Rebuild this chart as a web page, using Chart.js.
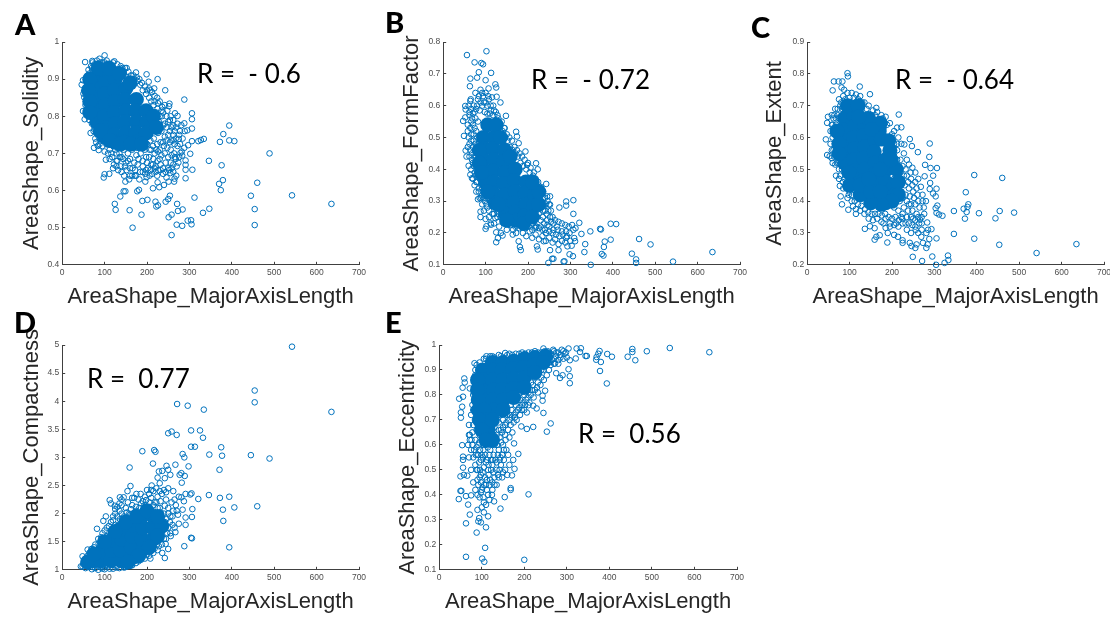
<!DOCTYPE html>
<html>
<head>
<meta charset="utf-8">
<script src="https://cdn.jsdelivr.net/npm/chart.js@4/dist/chart.umd.min.js"></script>
<style>
html, body { margin: 0; background: #fff; overflow: hidden; width: 1110px; height: 617px; }
canvas { position: absolute; }
.letter, .rtext { position: absolute; font-family: Lato, sans-serif; color: #000; line-height: 1; white-space: pre; }
.letter { font-size: 29px; font-weight: 900; }
.rtext { font-size: 26px; }
</style>
</head>
<body>
<script>
// x ticks are the same on every panel
const xTicks = [0, 100, 200, 300, 400, 500, 600, 700];
const yTicksA = [0.4, 0.5, 0.6, 0.7, 0.8, 0.9, 1];
const yTicksB = [0.1, 0.2, 0.3, 0.4, 0.5, 0.6, 0.7, 0.8];
const yTicksC = [0.2, 0.3, 0.4, 0.5, 0.6, 0.7, 0.8, 0.9];
const yTicksD = [1, 1.5, 2, 2.5, 3, 3.5, 4, 4.5, 5];
const yTicksE = [0.1, 0.2, 0.3, 0.4, 0.5, 0.6, 0.7, 0.8, 0.9, 1];

// single rings, [MajorAxisLength, value]
const pointsA = [[635,.564],[542,.587],[489,.7],[460,.621],[445,.586],[454,.55],[454,.507],[406,.733],[394,.735],[380,.752],[394,.775],[372,.731],[376,.668],[346,.68],[379,.628],[370,.618],[374,.601],[347,.551],[332,.54],[312,.581],[334,.739],[327,.736],[321,.733],[306,.733],[297,.722],[302,.699],[307,.656],[291,.633],[291,.656],[291,.669],[291,.681],[279,.701],[283,.694],[275,.739],[306,.767],[295,.762],[306,.792],[306,.808],[288,.845],[288,.781],[281,.776],[289,.76],[272,.801],[266,.808],[253,.834],[252,.827],[243,.87],[225,.9],[199,.913],[204,.893],[217,.875],[174,.918],[152,.93],[123,.948],[100,.964],[54,.946],[71,.949],[46,.885],[49,.897],[52,.851],[50,.861],[49,.814],[53,.792],[67,.755],[75,.715],[86,.709],[103,.683],[98,.635],[100,.644],[111,.645],[124,.564],[126,.548],[137,.584],[145,.598],[149,.598],[159,.547],[166,.5],[187,.535],[189,.572],[201,.575],[177,.598],[181,.602],[220,.57],[222,.557],[226,.56],[244,.57],[250,.577],[254,.586],[251,.528],[258,.535],[271,.564],[273,.545],[284,.549],[270,.508],[283,.505],[258,.48],[296,.519],[304,.52],[305,.509],[149,.624],[171,.64],[160,.64],[196,.624],[199,.636],[214,.606],[225,.622],[229,.609],[240,.615],[246,.635],[255,.647],[251,.624],[264,.624],[269,.64],[265,.632],
[58,.9],[60,.88],[62,.925],[64,.915],[66,.87],[68,.935],[72,.945],[76,.94],[82,.95],[88,.955],[95,.945],[105,.95],[112,.94],[120,.945],[130,.94],[138,.935],[58,.84],[60,.82],[62,.8],[64,.79],[68,.83],[72,.86],[70,.78],[74,.76],[78,.74],[80,.73],[84,.72],[90,.735],[95,.72],[100,.705],[108,.7],[112,.685],[118,.69],[122,.67],[128,.665],[120,.66],[132,.655],[140,.65],[148,.665],[155,.68],[160,.66],[165,.64],[172,.655],[178,.67],[184,.65],[190,.665],[196,.645],[202,.66],[208,.655],[214,.67],[220,.65],[226,.655],[232,.67],[238,.66],[244,.675],[250,.66],[256,.675],[262,.67],[268,.685],[274,.675],[145,.92],[152,.905],[160,.9],[168,.91],[176,.905],[182,.9],[188,.89],[195,.88],[205,.875],[212,.865],[218,.855],[224,.85],[230,.84],[236,.825],[242,.83],[248,.815],[256,.8],[262,.79],[225,.82],[215,.83],[205,.85],[198,.86],[190,.87],[205,.8],[212,.79],[220,.8],[228,.785],[235,.8],[242,.78],[250,.785],[258,.77],[265,.76],[272,.78],[278,.76],[210,.76],[218,.77],[226,.755],[234,.76],[242,.745],[250,.75],[258,.735],[265,.725],[272,.72],[208,.735],[216,.74],[224,.725],[232,.73],[240,.72],[248,.715],[256,.71],[264,.7],[210,.71],[218,.7],[226,.705],[234,.695],[242,.7],[250,.69],[258,.695],[266,.69],[125,.71],[135,.7],[145,.71],[155,.7],[165,.71],[175,.695],[185,.7],[195,.71],[205,.69],[215,.685],[225,.68],[130,.68],[140,.69],[150,.675],[160,.685],[170,.675],[180,.685],[190,.68],[200,.675],[210,.67],[220,.665],[230,.685],
[55,.87],[57,.855],[55,.83],[60,.86],[60,.91],[66,.9],[66,.85],[70,.92],[72,.885],[70,.81],[68,.8],[62,.815],[76,.77],[74,.8],[80,.755],[86,.745],[92,.75],[88,.725],[104,.725],[112,.71],[100,.735],[120,.72],[128,.7],[136,.69],[144,.685],[116,.7],[128,.68],[138,.665],[146,.64],[152,.655],[158,.63],[166,.66],[174,.64],[182,.63],[190,.65],[198,.655],[206,.64],[212,.645],[218,.66],[224,.64],[232,.655],[238,.645],[244,.65],[252,.655],[258,.66],[262,.65],[270,.665],[276,.69],[282,.705],[288,.715],[278,.725],[284,.74],[276,.75],[268,.74],[262,.75],[254,.76],[246,.77],[238,.775],[230,.77],[222,.78],[214,.81],[222,.81],[230,.8],[238,.81],[246,.8],[254,.79],[262,.775],[268,.77],[210,.84],[218,.84],[226,.835],[234,.815],[200,.87],[208,.87],[184,.885],[178,.895],[170,.9],[162,.91],[156,.92],[148,.93],[142,.93],[130,.925],[118,.935],[108,.94],[100,.945],[90,.945],[80,.94],[70,.93],[198,.69],[206,.71],[214,.72],[222,.71],[230,.71],[238,.73],[246,.735],[254,.73],[262,.735],[200,.725],[194,.735],[186,.72],[176,.715],[168,.725],[158,.72],[148,.72],[138,.715]];

const pointsB = [[635,.14],[542,.11],[489,.164],[462,.181],[445,.135],[455,.117],[455,.106],[408,.228],[395,.229],[395,.179],[381,.173],[379,.156],[378,.129],[374,.134],[372,.211],[370,.213],[348,.1],[347,.205],[335,.165],[333,.14],[326,.197],[321,.232],[306,.127],[298,.133],[307,.21],[307,.26],[307,.303],[290,.299],[290,.286],[274,.28],[248,.106],[257,.119],[260,.119],[284,.11],[286,.111],[272,.146],[252,.146],[293,.158],[303,.16],[309,.184],[311,.174],[102,.771],[56,.759],[74,.736],[90,.734],[94,.73],[113,.703],[84,.705],[64,.685],[63,.661],[80,.688],[100,.68],[123,.667],[125,.657],[107,.654],[115,.626],[126,.628],[135,.61],[65,.62],[64,.615],[52,.599],[53,.588],[47,.552],[52,.563],[49,.505],[53,.459],[55,.44],[60,.411],[64,.383],[68,.372],[82,.306],[88,.267],[88,.25],[100,.244],[102,.221],[100,.213],[113,.226],[123,.247],[125,.202],[125,.171],[129,.184],[136,.2],[140,.192],[164,.195],[178,.174],[181,.156],[183,.146],[148,.568],[145,.529],[172,.518],[174,.503],[178,.482],[194,.456],[219,.419],[223,.4],[214,.39],[243,.354],[245,.315],[252,.315],[252,.289],[237,.284],[198,.414],[217,.216],[221,.158],[223,.148],[237,.174],
[60,.6],[66,.59],[72,.6],[62,.57],[68,.56],[74,.58],[58,.54],[64,.53],[70,.54],[76,.56],[60,.5],[66,.49],[72,.51],[78,.52],[58,.47],[64,.46],[70,.47],[76,.48],[62,.44],[68,.43],[74,.44],[80,.46],[66,.4],[72,.41],[78,.42],[70,.37],[76,.38],[82,.4],[74,.35],[80,.36],[86,.37],[78,.33],[84,.34],[90,.35],[86,.31],[92,.32],[92,.29],[98,.3],[96,.27],[104,.28],[108,.25],[116,.26],[112,.23],[120,.23],[128,.25],[132,.22],[140,.235],[150,.21],[158,.225],[165,.21],[172,.2],[180,.215],[188,.2],[196,.19],[204,.205],[210,.185],[218,.195],[226,.18],[234,.19],[242,.175],[250,.185],[258,.17],[264,.18],[272,.165],[280,.175],[288,.17],[292,.19],[300,.175],[76,.64],[82,.62],[88,.65],[94,.63],[100,.61],[106,.63],[112,.6],[118,.6],[80,.6],[86,.585],[92,.6],[98,.58],[104,.575],[110,.575],[118,.57],[124,.58],[130,.56],[138,.55],[144,.53],[150,.51],[156,.5],[162,.49],[168,.47],[174,.46],[180,.45],[186,.44],[192,.43],[200,.42],[206,.405],[212,.38],[218,.37],[224,.36],[230,.345],[236,.33],[240,.31],[246,.3],[250,.29],[254,.27],[258,.25],[264,.24],[272,.235],[280,.23],[288,.225],[296,.22],[304,.225],[312,.215],[215,.24],[225,.26],[235,.25],[245,.24],[220,.22],[230,.22],[240,.21],[250,.22],[260,.21],[270,.21],[280,.205],[290,.205],[235,.285],[225,.3],[240,.27],
[62,.58],[70,.575],[78,.59],[66,.55],[74,.53],[82,.55],[58,.52],[66,.51],[72,.49],[80,.5],[62,.48],[68,.45],[76,.46],[84,.48],[70,.42],[78,.44],[84,.44],[74,.39],[82,.38],[88,.42],[78,.36],[86,.39],[90,.37],[84,.33],[92,.34],[90,.31],[98,.33],[96,.31],[104,.31],[102,.29],[110,.3],[108,.27],[114,.29],[120,.26],[126,.27],[130,.26],[136,.25],[146,.245],[152,.23],[162,.23],[170,.22],[178,.23],[186,.22],[194,.215],[202,.22],[210,.21],[218,.22],[226,.215],[234,.21],[242,.2],[250,.205],[258,.2],[266,.195],[274,.19],[282,.195],[290,.185],[298,.2],[88,.61],[96,.61],[104,.6],[112,.585],[120,.585],[128,.57],[84,.63],[92,.64],[100,.64],[108,.62],[134,.54],[140,.52],[146,.5],[152,.49],[158,.47],[164,.46],[170,.45],[176,.44],[182,.42],[188,.41],[196,.4],[204,.39],[210,.365],[218,.35],[224,.34],[230,.325],[236,.31],[242,.29],[248,.27],[252,.25],[260,.23],[268,.22],[244,.26],[236,.27],[228,.28],[222,.25],[230,.24],[238,.23],[246,.225],[254,.235],[212,.23],[205,.24],[196,.23],[220,.27],[215,.26],[205,.25],[190,.24],[180,.24],[168,.235]];

const pointsC = [[635,.265],[541,.237],[488,.364],[460,.473],[454,.369],[453,.263],[444,.346],[405,.362],[394,.482],[394,.282],[380,.39],[378,.382],[376,.366],[369,.376],[374,.428],[372,.345],[346,.369],[346,.297],[332,.229],[333,.215],[324,.206],[304,.2],[295,.226],[271,.212],[249,.225],[319,.354],[311,.358],[305,.363],[303,.378],[307,.386],[305,.439],[303,.415],[297,.424],[289,.438],[290,.457],[297,.48],[306,.504],[291,.504],[288,.539],[289,.581],[278,.514],[277,.478],[261,.554],[247,.573],[242,.595],[229,.578],[216,.672],[222,.632],[212,.631],[163,.693],[148,.736],[124,.76],[95,.802],[96,.792],[63,.776],[74,.776],[83,.776],[60,.748],[81,.757],[87,.75],[44,.594],[49,.665],[47,.646],[47,.545],[53,.541],[68,.48],[77,.448],[79,.415],[82,.39],[97,.373],[108,.384],[115,.36],[136,.313],[148,.321],[159,.315],[159,.279],[163,.288],[171,.293],[189,.27],[185,.316],[190,.3],[205,.294],[214,.288],[225,.269],[225,.277],[242,.269],[246,.259],[258,.264],[255,.253],[269,.288],[273,.269],[284,.264],[281,.253],[288,.281],[283,.333],[285,.31],[293,.312],[281,.3],[305,.283],[266,.342],
[75,.72],[85,.73],[95,.74],[105,.74],[115,.735],[125,.73],[135,.71],[145,.7],[155,.685],[165,.68],[175,.67],[185,.665],[195,.645],[205,.62],[215,.6],[222,.58],[228,.55],[235,.53],[240,.515],[248,.505],[255,.49],[262,.47],[268,.445],[272,.42],[75,.47],[85,.44],[95,.41],[105,.4],[115,.375],[125,.37],[135,.36],[145,.345],[155,.34],[165,.345],[175,.335],[185,.345],[195,.33],[205,.325],[215,.32],[225,.33],[235,.31],[245,.3],[255,.32],[262,.3],[270,.31],[255,.34],[245,.35],[235,.35],[225,.36],[215,.37],[205,.38],[262,.35],[270,.35],[275,.38],[265,.38],[255,.39],[245,.39],[235,.4],[225,.41],[215,.43],[210,.47],[220,.46],[230,.45],[240,.44],[250,.43],[260,.42],[215,.5],[225,.51],[235,.48],[245,.47],[255,.46],[55,.62],[60,.6],[65,.58],[58,.56],[64,.54],[70,.52],[75,.5],[62,.66],[68,.64],[66,.69],[72,.67],[78,.7],[60,.52],[72,.6],[78,.56],[82,.5],[88,.47],[100,.43],[205,.58],[212,.56],[220,.53],[195,.6],
[58,.64],[64,.62],[70,.6],[55,.58],[62,.56],[68,.55],[72,.58],[58,.535],[66,.515],[74,.52],[78,.48],[84,.46],[92,.44],[98,.42],[106,.42],[112,.4],[120,.39],[128,.385],[136,.375],[144,.365],[152,.36],[160,.36],[168,.36],[176,.355],[184,.36],[192,.35],[200,.345],[208,.35],[216,.34],[224,.345],[232,.33],[240,.33],[248,.325],[256,.31],[264,.33],[270,.33],[276,.36],[280,.4],[272,.4],[262,.4],[252,.41],[242,.415],[232,.42],[222,.43],[212,.445],[205,.52],[212,.53],[220,.49],[228,.48],[238,.46],[248,.45],[258,.44],[205,.55],[212,.58],[198,.57],[190,.6],[200,.61],[180,.63],[188,.64],[170,.65],[178,.66],[160,.67],[150,.67],[140,.69],[130,.71],[120,.72],[110,.725],[100,.725],[90,.72],[80,.71],[72,.69],[64,.67],[58,.67],[68,.66],[60,.64],[75,.66],[82,.69],[92,.7],[200,.57],[205,.47],[222,.47],[232,.5],[244,.49],[218,.4],[228,.38],[238,.37],[248,.37],[258,.36],[240,.39],[250,.345],[222,.35],[210,.33],[195,.32],[180,.33]];

const pointsD = [[542,4.97],[454,4.19],[454,3.98],[635,3.81],[271,3.95],[296,3.92],[334,3.85],[250,3.43],[258,3.46],[270,3.4],[304,3.48],[325,3.48],[332,3.35],[304,3.19],[313,3.19],[375,3.18],[377,3.03],[347,3.05],[445,3.04],[489,2.98],[371,2.78],[284,3.06],[288,3],[298,2.84],[189,3.11],[217,3.13],[220,3.1],[214,2.89],[159,2.82],[246,2.85],[267,2.87],[281,2.72],[277,2.69],[289,2.67],[282,2.55],[255,2.69],[250,2.78],[236,2.76],[228,2.75],[225,2.64],[242,2.63],[230,2.54],[211,2.5],[161,2.49],[154,2.4],[112,2.24],[115,2.18],[124,2.14],[136,2.29],[145,2.29],[82,1.73],[103,1.95],[97,1.87],[69,1.37],[60,1.36],[44,1.06],[48,1.24],[346,2.33],[372,2.28],[394,2.3],[460,2.13],[406,2.11],[379,2.07],[380,1.87],[394,1.4],[288,1.42],[306,1.56],[304,1.57],[291,1.8],[306,1.94],[291,1.93],[307,2.08],[321,2.26],[305,2.36],[302,2.34],[291,2.35],[275,2.3],[281,2.29],[287,2.22],[284,2.07],[273,1.98],[275,1.82],[267,1.67],[256,1.6],[242,1.21],[250,1.37],[236,1.3],[244,1.46],[224,1.46],[208,1.2],[199,1.27],
[50,1.1],[60,1.25],[75,1.4],[85,1.55],[95,1.65],[105,1.75],[115,1.85],[125,2],[135,2.05],[150,2.1],[165,2.15],[180,2.25],[195,2.3],[205,2.35],[215,2.4],[225,2.3],[235,2.35],[245,2.25],[250,2.1],[255,1.95],[260,1.8],[255,1.65],[245,1.55],[235,1.45],[225,1.35],[215,1.3],[205,1.25],[195,1.2],[180,1.15],[165,1.08],[150,1.05],[135,1.03],[120,1.02],[100,1.01],[85,1],[70,1.01],[55,1.03],[62,1.08],[72,1.05],[80,1.1],[92,1.04],[108,1.06],[128,1.07],[142,1.08],[158,1.12],[172,1.18],[186,1.22],[58,1.16],[66,1.2],[74,1.28],[82,1.34],[90,1.45],[98,1.52],[106,1.6],[116,1.7],[126,1.8],[136,1.9],[146,1.95],[158,2],[170,2.02],[182,2.1],[194,2.15],[206,2.2],[218,2.2],[230,2.1],[240,2],[246,1.9],[242,1.75],[232,1.6],[222,1.5],[212,1.42],[202,1.35],[192,1.3],[120,1.95],[130,2.12],[140,2.15],[155,2.2],[170,2.28],[185,2.35],[200,2.42],[222,2.45],[240,2.42],[250,2.45],[262,2.4],[258,2.2],[268,2.15],[262,2.05],
[48,1.06],[52,1.14],[56,1.2],[64,1.3],[70,1.34],[78,1.45],[86,1.47],[92,1.58],[100,1.7],[110,1.78],[120,1.88],[130,1.95],[140,2],[152,2.02],[162,2.08],[174,2.12],[186,2.18],[198,2.24],[210,2.28],[222,2.2],[232,2.22],[242,2.14],[250,2],[254,1.85],[250,1.75],[248,1.65],[240,1.55],[228,1.42],[218,1.38],[208,1.32],[198,1.26],[186,1.18],[174,1.12],[160,1.07],[146,1.04],[128,1.04],[112,1.02],[95,1.02],[78,1.03],[62,1.05],[66,1.12],[76,1.1],[86,1.06],[100,1.06],[118,1.09],[134,1.1],[150,1.1],[164,1.14],[180,1.2],[86,1.22],[80,1.22],[100,1.28],[105,1.44],[125,1.56],[148,1.75],[170,1.95],[195,2.08],[215,2.15],[232,2.02],[178,1.28],[196,1.4],[206,1.5],[222,1.62],[232,1.72],[242,1.85],[130,1.78],[115,1.66],[160,1.98],[175,2.05],[205,2.1],[225,2.1],[260,1.95],[265,1.75],[165,2.28],[175,2.35],[190,2.22],[210,2.42],[230,2.4],[245,2.38],[265,2.25],[270,2.05],[140,2.25],[125,2.08],[135,2.18]];

const pointsE = [[635,.971],[542,.988],[488,.975],[454,.984],[454,.972],[461,.939],[443,.953],[406,.953],[395,.964],[394,.846],[378,.896],[380,.932],[377,.976],[374,.965],[370,.952],[369,.941],[347,.956],[344,.956],[333,.987],[323,.986],[331,.972],[321,.946],[307,.939],[307,.875],[307,.847],[304,.903],[290,.879],[284,.868],[275,.887],[262,.686],[253,.653],[245,.728],[221,.672],[206,.664],[193,.674],[186,.564],[176,.606],[174,.54],[177,.504],[171,.478],[165,.52],[168,.42],[168,.427],[210,.402],[154,.391],[144,.345],[129,.374],[115,.314],[110,.27],[108,.188],[101,.145],[106,.132],[63,.152],[200,.14],[88,.249],[63,.286],[72,.321],[68,.361],[63,.395],[75,.398],[46,.383],[50,.416],[52,.416],[50,.474],[58,.48],[66,.477],[56,.509],[56,.54],[56,.553],[54,.599],[51,.709],[51,.73],[47,.785],[56,.793],[54,.753],[59,.866],[60,.85],[55,.829],[72,.826],[83,.927],[111,.955],[155,.968],[94,.307],[92,.294],[98,.29],[245,.986],[268,.981],[288,.981],[304,.986],[272,.926],[253,.879],[249,.817],[243,.797],[243,.777],[229,.746],[221,.757],[210,.759],[206,.73],
[95,.93],[105,.945],[120,.955],[130,.95],[140,.96],[165,.965],[180,.965],[195,.97],[210,.97],[225,.975],[240,.97],[255,.975],[262,.965],[275,.97],[285,.96],[295,.965],[300,.95],[260,.95],[270,.945],[280,.94],[262,.92],[252,.93],[258,.9],[245,.9],[240,.87],[232,.85],[225,.82],[215,.8],[205,.78],[195,.76],[185,.74],[175,.72],[165,.7],[155,.68],[145,.66],[135,.64],[85,.9],[82,.87],[85,.84],[80,.8],[78,.76],[75,.72],[70,.68],[72,.64],[68,.6],[75,.58],[80,.55],[85,.52],[90,.5],[95,.47],[85,.88],[88,.8],[85,.74],[90,.7],[88,.66],[85,.62],[92,.6],[90,.56],[98,.54],[105,.51],[115,.5],[125,.52],[135,.5],[145,.52],[100,.62],[110,.6],[120,.58],[130,.6],[140,.58],[150,.6],[100,.68],[110,.66],[120,.65],[130,.67],[140,.69],[150,.7],[160,.72],[170,.74],[180,.76],[190,.78],[200,.8],[92,.44],[100,.42],[110,.44],[120,.46],[130,.47],[140,.47],[150,.49],[160,.48],[85,.42],[95,.39],[105,.37],[115,.4],[125,.42],[80,.45],[75,.5],[70,.55],[105,.33],[90,.34],[100,.35],
[88,.92],[92,.9],[90,.87],[86,.86],[82,.83],[84,.8],[82,.78],[80,.74],[84,.7],[80,.68],[78,.65],[76,.62],[72,.62],[70,.64],[78,.6],[82,.58],[86,.56],[88,.59],[92,.56],[96,.58],[100,.56],[104,.58],[108,.56],[112,.54],[118,.56],[122,.54],[128,.56],[132,.54],[138,.56],[142,.54],[148,.56],[152,.58],[158,.58],[162,.56],[95,.64],[102,.65],[108,.63],[115,.61],[122,.62],[128,.64],[135,.62],[142,.63],[148,.65],[155,.64],[162,.66],[168,.68],[175,.69],[182,.7],[92,.66],[98,.7],[105,.7],[112,.68],[118,.7],[125,.68],[132,.7],[138,.72],[145,.72],[152,.73],[160,.75],[168,.76],[176,.78],[184,.79],[192,.81],[200,.82],[208,.84],[216,.85],[224,.87],[232,.88],[240,.9],[250,.92],[258,.93],[210,.81],[220,.84],[230,.83],[238,.84],[246,.86],[194,.74],[202,.76],[212,.77],[222,.79],[232,.81],[170,.71],[180,.73],[190,.72],[200,.74],[110,.945],[125,.955],[145,.955],[160,.96],[172,.96],[188,.965],[202,.965],[218,.97],[232,.97],[248,.975],[270,.975],[280,.97],[292,.975],[298,.97],[275,.955],[285,.95],[292,.945],[265,.94],[255,.94],[270,.925],[280,.925],[262,.935],[88,.5],[96,.5],[102,.49],[108,.47],[116,.48],[122,.5],[128,.49],[138,.48],[148,.47],[155,.5],[90,.46],[98,.45],[106,.44],[112,.42],[90,.4],[98,.41],[104,.39],[110,.36],[118,.38],[124,.4],[135,.44],[142,.5],
[94,.53],[103,.55],[110,.53],[116,.52],[126,.54],[135,.53],[144,.55],[152,.54],[94,.61],[105,.6],[114,.59],[126,.6],[136,.6],[146,.61],[156,.62],[165,.63],[172,.65],[140,.66],[150,.67],[158,.69],[166,.72],[178,.71],[188,.75],[198,.77],[208,.79],[218,.82],[98,.48],[112,.46],[125,.45],[118,.44],[130,.44],[102,.43]];

// dense middle of each cloud, where the rings merge into solid colour:
// a few filled dots stand in for the many rings there
const coreA = [[80,.905],[78,.875],[80,.845],[80,.815],[82,.785],[100,.92],[102,.89],[100,.86],[102,.83],[100,.8],[102,.77],[100,.745],[125,.9],[123,.87],[125,.84],[123,.81],[125,.78],[123,.75],[125,.73],[150,.875],[148,.845],[150,.815],[148,.785],[150,.755],[148,.73],[175,.845],[173,.815],[175,.785],[173,.755],[175,.73],[198,.815],[200,.785],[198,.755],[65,.9],[62,.87],[65,.84],[65,.81],[85,.93],[110,.93],[135,.915],[160,.89],[90,.76],[112,.735],[137,.725],[162,.725],[187,.725],[215,.8],[222,.77]];
const coreB = [[95,.5],[97,.465],[95,.43],[97,.395],[100,.36],[120,.5],[118,.465],[120,.43],[118,.395],[120,.36],[118,.325],[122,.295],[145,.46],[143,.425],[145,.39],[143,.355],[145,.32],[143,.285],[147,.26],[170,.4],[168,.365],[170,.33],[168,.295],[170,.265],[172,.24],[195,.36],[193,.325],[195,.29],[193,.255],[215,.32],[213,.285],[85,.46],[85,.42],[90,.39],[105,.54],[125,.54],[105,.33],[130,.29],[150,.24],[190,.23],[210,.25],[225,.29],[225,.33],[210,.36],[135,.5],[158,.44]];
const coreC = [[88,.66],[85,.625],[88,.59],[85,.555],[88,.52],[110,.67],[112,.635],[110,.6],[112,.565],[110,.53],[112,.495],[110,.465],[135,.64],[133,.605],[135,.57],[133,.535],[135,.5],[133,.465],[135,.435],[160,.59],[158,.555],[160,.52],[158,.485],[160,.45],[158,.415],[185,.53],[183,.495],[185,.46],[183,.425],[185,.395],[205,.45],[207,.42],[70,.62],[75,.58],[75,.55],[95,.7],[120,.7],[145,.66],[170,.62],[195,.56],[210,.5],[215,.46],[215,.42],[200,.4],[175,.39],[150,.395],[125,.42],[100,.45],[172,.645],[152,.625],[175,.595],[192,.59],[198,.53],[125,.45],[150,.43],[172,.43],[122,.665],[98,.49],[145,.47],[172,.5]];
const coreD = [[72,1.16],[92,1.16],[94,1.32],[115,1.16],[117,1.35],[115,1.52],[140,1.16],[138,1.35],[140,1.55],[138,1.72],[165,1.22],[163,1.4],[165,1.6],[163,1.8],[190,1.36],[188,1.55],[190,1.75],[188,1.95],[215,1.55],[213,1.75],[215,1.95],[235,1.78],[60,1.14],[75,1.28],[100,1.5],[125,1.68],[150,1.85],[175,1.95],[200,2.05],[225,1.95],[225,1.6],[205,1.4],[180,1.25],[155,1.14]];
const coreE = [[102,.9],[104,.86],[102,.82],[104,.78],[125,.93],[127,.9],[125,.86],[127,.82],[125,.78],[127,.74],[150,.93],[148,.9],[150,.86],[148,.82],[150,.78],[175,.935],[173,.905],[175,.865],[173,.825],[200,.945],[198,.91],[200,.87],[225,.95],[223,.92],[90,.86],[90,.82],[92,.78],[92,.74],[105,.74],[110,.7],[95,.7],[115,.66],[100,.66],[250,.955],[245,.93],[225,.89],[200,.83],[175,.79],[150,.74],[125,.7],[110,.62],[125,.62]];

// plot boxes measured on the picture
const panels = [
  { letter: 'A', letterX: 15, letterY: 9, r: 'R =  - 0.6', rX: 197, rY: 60, left: 62, top: 42, right: 359, bottom: 265, titleX: 32, titleY: 297, name: 'AreaShape_Solidity', min: 0.4, max: 1, ticks: yTicksA, points: pointsA, core: coreA },
  { letter: 'B', letterX: 385, letterY: 7, r: 'R =  - 0.72', rX: 531, rY: 66, left: 443, top: 42, right: 740, bottom: 265, titleX: 412, titleY: 297, name: 'AreaShape_FormFactor', min: 0.1, max: 0.8, ticks: yTicksB, points: pointsB, core: coreB },
  { letter: 'C', letterX: 751, letterY: 12, r: 'R =  - 0.64', rX: 895, rY: 66, left: 807, top: 42, right: 1104, bottom: 265, titleX: 775, titleY: 297, name: 'AreaShape_Extent', min: 0.2, max: 0.9, ticks: yTicksC, points: pointsC, core: coreC },
  { letter: 'D', letterX: 14, letterY: 307, r: 'R =  0.77', rX: 87, rY: 365, left: 62, top: 345, right: 359, bottom: 570, titleX: 32, titleY: 602, name: 'AreaShape_Compactness', min: 1, max: 5, ticks: yTicksD, points: pointsD, core: coreD },
  { letter: 'E', letterX: 385, letterY: 307, r: 'R =  0.56', rX: 578, rY: 420, left: 439, top: 345, right: 737, bottom: 570, titleX: 408, titleY: 602, name: 'AreaShape_Eccentricity', min: 0.1, max: 1, ticks: yTicksE, points: pointsE, core: coreE }
];

const blue = '#0072BD';
const titleSize = 22;

panels.forEach(p => {
  const canvas = document.createElement('canvas');
  // title centre sits half a line in from the canvas edge
  const half = titleSize * 0.6;
  const cLeft = p.titleX - half;
  const cTop = p.top - 25;
  const cRight = p.right + 15;
  const cBottom = p.titleY + half;
  canvas.style.left = cLeft + 'px';
  canvas.style.top = cTop + 'px';
  canvas.width = cRight - cLeft;
  canvas.height = cBottom - cTop;
  canvas.style.width = (cRight - cLeft) + 'px';
  canvas.style.height = (cBottom - cTop) + 'px';
  document.body.appendChild(canvas);

  new Chart(canvas.getContext('2d'), {
    type: 'scatter',
    data: {
      datasets: [{
        data: p.core.map(c => ({ x: c[0], y: c[1] })),
        pointRadius: 7.5,
        pointBorderWidth: 0,
        pointBackgroundColor: blue,
        clip: false
      }, {
        data: p.points.map(c => ({ x: c[0], y: c[1] })),
        pointRadius: 2.8,
        pointBorderWidth: 1,
        pointBorderColor: blue,
        pointBackgroundColor: 'rgba(0,0,0,0)',
        clip: false
      }]
    },
    options: {
      responsive: false,
      animation: false,
      events: [],
      layout: { padding: { top: 25, right: 15, left: 0, bottom: 0 } },
      plugins: { legend: { display: false }, tooltip: { enabled: false }, title: { display: false } },
      scales: {
        x: {
          type: 'linear', min: 0, max: 700,
          afterBuildTicks: s => { s.ticks = xTicks.map(v => ({ value: v })); },
          afterFit: s => { s.height = cBottom - p.bottom; },
          grid: { drawOnChartArea: false, tickLength: -3, tickColor: '#404040', tickWidth: 1 },
          border: { color: '#404040', width: 1 },
          ticks: { color: '#4d4d4d', font: { family: 'Liberation Sans', size: 8.5 }, padding: 6, maxRotation: 0, autoSkip: false },
          title: { display: true, text: 'AreaShape_MajorAxisLength', color: '#262626', font: { family: 'Liberation Sans', size: titleSize }, padding: 0 }
        },
        y: {
          type: 'linear', min: p.min, max: p.max,
          afterBuildTicks: s => { s.ticks = p.ticks.map(v => ({ value: v })); },
          afterFit: s => { s.width = p.left - cLeft; },
          grid: { drawOnChartArea: false, tickLength: -3, tickColor: '#404040', tickWidth: 1 },
          border: { color: '#404040', width: 1 },
          ticks: { color: '#4d4d4d', font: { family: 'Liberation Sans', size: 8.5 }, padding: 6, autoSkip: false, callback: v => String(v) },
          title: { display: true, text: p.name, color: '#262626', font: { family: 'Liberation Sans', size: titleSize }, padding: 0 }
        }
      }
    }
  });

  const letter = document.createElement('div');
  letter.className = 'letter';
  letter.textContent = p.letter;
  letter.style.left = p.letterX + 'px';
  letter.style.top = p.letterY + 'px';
  document.body.appendChild(letter);

  const rText = document.createElement('div');
  rText.className = 'rtext';
  rText.textContent = p.r;
  rText.style.left = p.rX + 'px';
  rText.style.top = p.rY + 'px';
  document.body.appendChild(rText);
});
</script>
</body>
</html>
